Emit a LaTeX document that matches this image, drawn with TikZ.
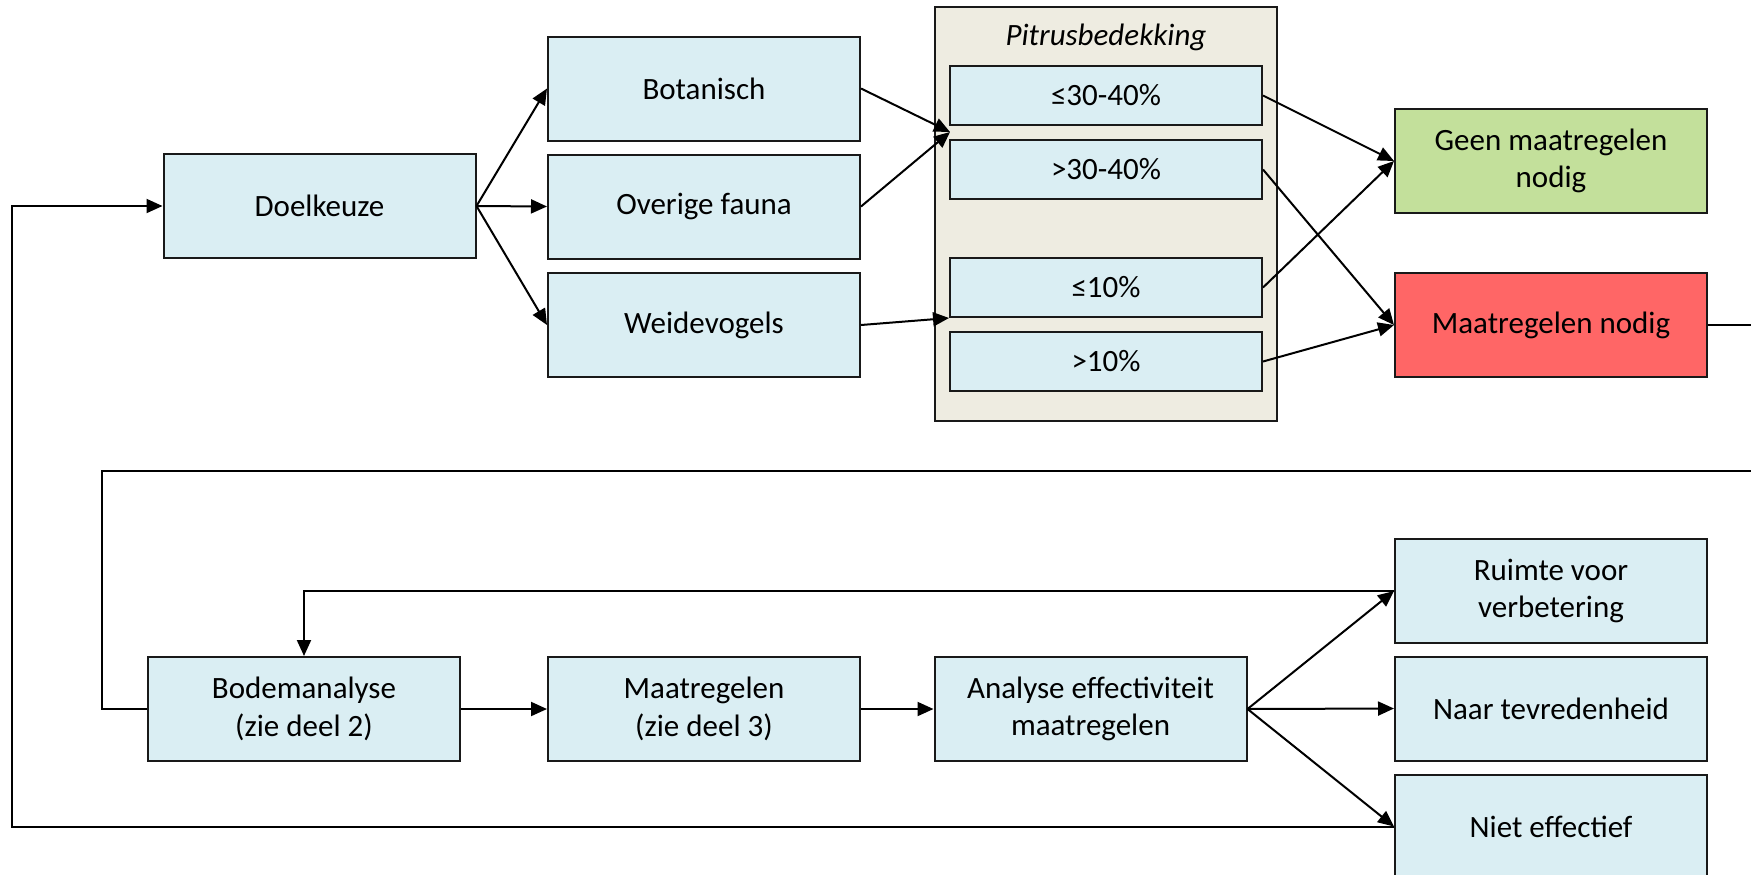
\documentclass[tikz,border=0pt]{standalone}
\usepackage{fontspec}
\setmainfont{Carlito}
\usepackage{tikz}
\usetikzlibrary{arrows.meta}
\definecolor{lichtblauw}{HTML}{DAEEF3}
\definecolor{zand}{HTML}{EEECE1}
\definecolor{groen}{HTML}{C3E09B}
\definecolor{rood}{HTML}{FF6666}
\tikzset{
	blok/.style={draw=black!90,line width=1pt,fill=lichtblauw,minimum width=156pt,minimum height=52pt,align=center,inner sep=2pt,font=\fontsize{15.5}{18.7}\selectfont},
	klein/.style={blok,minimum height=29.5pt},
	pijl/.style={line width=1pt,-{Triangle[length=8pt,width=7pt]}},
	lijn/.style={line width=1pt}
}
\begin{document}
\begin{tikzpicture}[x=0.5pt,y=-0.5pt]
			\useasboundingbox (0,0) rectangle (1751,874);
			\node[draw=black!90,line width=1pt,fill=zand,minimum width=171pt,minimum height=207pt] (P) at (1106,214) {};
			\node[font=\fontsize{15.5}{18.7}\selectfont\itshape] (Ptitel) at (1106,37) {Pitrusbedekking};
			\node[blok] (doel) at (319.5,206) {Doelkeuze};
			\node[blok] (bot) at (704,88.5) {Botanisch};
			\node[blok] (fauna) at (704,206.5) {Overige fauna};
			\node[blok] (weide) at (704,325) {Weidevogels};
			\node[klein] (p1) at (1106,95.5) {≤30-40\%};
			\node[klein] (p2) at (1106,169.5) {>30-40\%};
			\node[klein] (p3) at (1106,287.5) {≤10\%};
			\node[klein] (p4) at (1106,361.5) {>10\%};
			\node[blok,fill=groen] (geen) at (1551,161) {Geen maatregelen\\nodig};
			\node[blok,fill=rood] (nodig) at (1551,325) {Maatregelen nodig};
			\node[blok] (bodem) at (304,709) {Bodemanalyse\\(zie deel 2)};
			\node[blok] (maat) at (704,709) {Maatregelen\\(zie deel 3)};
			\node[blok] (analyse) at (1090.5,709) {Analyse effectiviteit\\maatregelen};
			\node[blok] (ruimte) at (1551,591) {Ruimte voor\\verbetering};
			\node[blok] (tevreden) at (1551,708.5) {Naar tevredenheid};
			\node[blok] (niet) at (1551,826.5) {Niet effectief};
			\coordinate (m1) at (950,132);
			\coordinate (L) at (12,0);
			\coordinate (R) at (1751,471);
			\coordinate (B) at (102,471);
			\draw[pijl] (doel.east) -- (bot.west);
			\draw[pijl] (doel.east) -- (fauna.west);
			\draw[pijl] (doel.east) -- (weide.west);
			\draw[pijl] (bot.east) -- (m1);
			\draw[pijl] (fauna.east) -- (m1);
			\draw[pijl] (weide.east) -- (p3.south west);
			\draw[pijl] (p1.east) -- (geen.west);
			\draw[pijl] (p3.east) -- (geen.west);
			\draw[pijl] (p2.east) -- (nodig.west);
			\draw[pijl] (p4.east) -- (nodig.west);
			\draw[lijn] (nodig.east) -- (nodig.east -| R);
			\draw[lijn] (R) -- (B) |- (bodem.west);
			\draw[pijl] (bodem) -- (maat);
			\draw[pijl] (maat) -- (analyse);
			\draw[pijl] (analyse.east) -- (ruimte.west);
			\draw[pijl] (analyse.east) -- (tevreden.west);
			\draw[pijl] (analyse.east) -- (niet.west);
			\draw[pijl] (ruimte.west) -| (bodem.north);
			\draw[pijl] (niet.west) -- (niet.west -| L) |- (doel.west);
		\end{tikzpicture}
\end{document}
